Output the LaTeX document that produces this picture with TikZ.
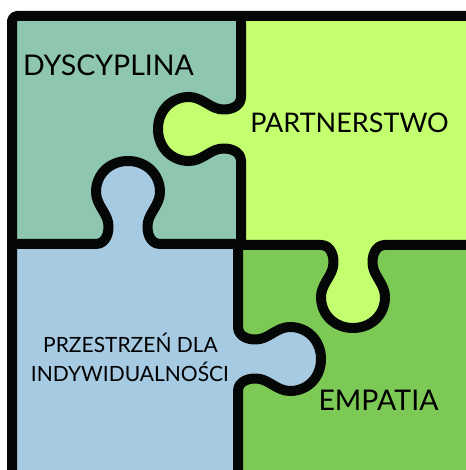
\documentclass[tikz,border=0pt]{standalone}
\usepackage{fontspec}
\setmainfont{Lato}

\definecolor{lineblack}{HTML}{050707}
\definecolor{dyscgreen}{HTML}{8EC6B0}
\definecolor{partlime}{HTML}{C3FF6F}
\definecolor{przeblue}{HTML}{A6CAE1}
\definecolor{empagreen}{HTML}{7DC955}

% one puzzle knob, local coordinates, base from (-32,0) to (32,0)
\newcommand\knob{.. controls (-22,0) and (-18,12) .. (-20,22)
  .. controls (-22,32) and (-32,40) .. (-32,52)
  .. controls (-32,70) and (-18,83) .. (0,83)
  .. controls (18,83) and (32,70) .. (32,52)
  .. controls (32,40) and (22,32) .. (20,22)
  .. controls (18,12) and (22,0) .. (32,0)}

\begin{document}
\begin{tikzpicture}[x=1pt, y=1pt,
    edge/.style = {draw=lineblack, line width=10pt, line join=round},
    word/.style = {text=black, inner sep=0pt, anchor=base}]
            \useasboundingbox (0,0) rectangle (465,470);

            % the four pieces
            \fill[dyscgreen] (12,226) rectangle (241,458);
            \fill[partlime] (241,225) rectangle (475,458);
            \fill[przeblue] (12,-10) rectangle (240,226);
            \fill[empagreen] (238,-10) rectangle (475,225);

            % knobs
            \fill[partlime] {[shift={(241,341)}, rotate=90] (-32,0) \knob -- cycle};
            \fill[przeblue] {[shift={(128,226)}] (-32,0) \knob -- cycle};
            \fill[partlime] {[shift={(353,225)}, rotate=180] (-32,0) \knob -- cycle};
            \fill[przeblue] {[shift={(238,111)}, rotate=-90] (-32,0) \knob -- cycle};

            % outlines
            \draw[edge, rounded corners=5pt] (475,454) -- (12,454) -- (12,-10);
            \draw[edge] (241,226) {[shift={(241,341)}, rotate=90] -- (-32,0) \knob} -- (241,454);
            \draw[edge] (12,226) {[shift={(128,226)}] -- (-32,0) \knob} -- (239,226);
            \draw[edge] (475,225) {[shift={(353,225)}, rotate=180] -- (-32,0) \knob} -- (240,225);
            \draw[edge] (238,226) {[shift={(238,111)}, rotate=-90] -- (-32,0) \knob} -- (238,-10);

            % texts
            \node[word, font=\fontsize{28.5}{32}\selectfont] (dyscyplina) at (108.5,394) {DYSCYPLINA};
            \node[word, font=\fontsize{27}{30}\selectfont] (partnerstwo) at (349.5,337) {PARTNERSTWO};
            \node[word, font=\fontsize{21}{24}\selectfont] (przestrzen) at (130.5,117) {PRZESTRZEŃ DLA};
            \node[word, font=\fontsize{21}{24}\selectfont] (indywidualnosci) at (130,88) {INDYWIDUALNOŚCI};
            \node[word, font=\fontsize{28.5}{32}\selectfont] (empatia) at (378.5,59) {EMPATIA};
\end{tikzpicture}
\end{document}
